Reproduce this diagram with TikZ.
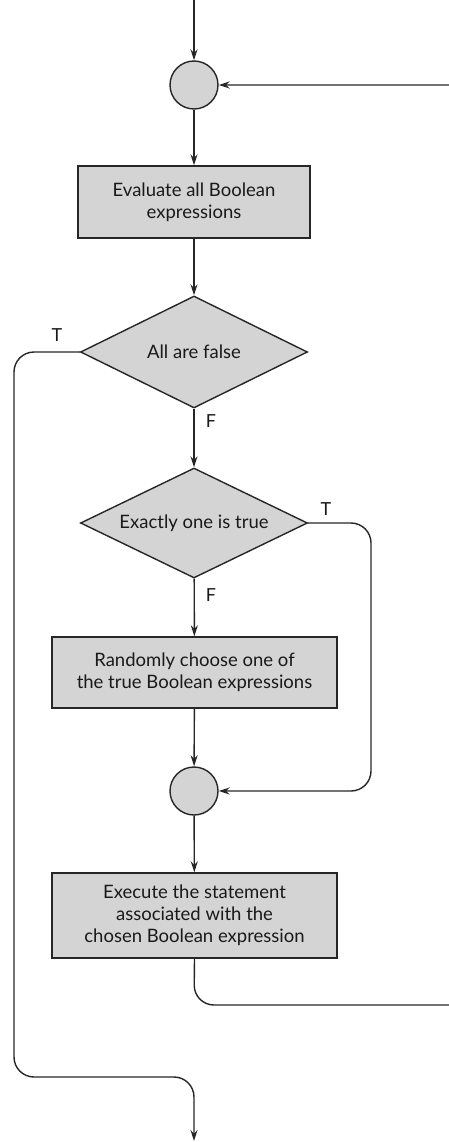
\documentclass[tikz,border=0pt]{standalone}
\usepackage{fontspec}
\setmainfont{Lato}
\usetikzlibrary{shapes.geometric,arrows.meta}
\definecolor{boxgray}{HTML}{D4D4D4}
\begin{document}
\begin{tikzpicture}[x=1pt,y=-1pt,
  line width=1.4pt, draw=black!85,
  every node/.style={font=\fontsize{18.5}{22}\selectfont, text=black!90},
  proc/.style={draw, fill=boxgray, rectangle, align=center, inner sep=0pt},
  junc/.style={draw, fill=boxgray, circle, minimum size=48pt, inner sep=0pt},
  dec/.style={draw, fill=boxgray, diamond, minimum width=227pt, minimum height=112pt, inner sep=0pt, aspect=2},
  arr/.style={-{Stealth[length=11pt,width=7pt]}},
  lbl/.style={font=\fontsize{18}{20}\selectfont}]
\useasboundingbox (0,0) rectangle (449,1142);
\clip (0,0) rectangle (449,1142);
\coordinate (start) at (194,0);
\node[junc] (c1) at (194,85) {};
\node[proc, minimum width=232pt, minimum height=72pt] (b1) at (194,202) {Evaluate all Boolean\\expressions};
\node[dec] (d1) at (194,352) {All are false};
\node[dec, minimum height=110pt] (d2) at (194,523) {Exactly one is true};
\node[proc, minimum width=285pt, minimum height=71pt] (b2) at (194.5,672.5) {Randomly choose one of\\the true Boolean expressions};
\node[junc] (c2) at (194,791) {};
\node[proc, minimum width=285pt, minimum height=85pt] (b3) at (194.5,915.5) {Execute the statement\\associated with the\\chosen Boolean expression};
\coordinate (end) at (194,1141);
\coordinate (lft) at (14,352);
\coordinate (lftb) at (14,1077);
\coordinate (midb) at (194,1077);
\coordinate (rt) at (371,523);
\coordinate (rtb) at (371,791);
\coordinate (lb) at (194,1005);
\coordinate (lbr) at (472,1005);
\coordinate (ltr) at (472,85);

\draw[arr] (start) -- (c1);
\draw[arr] (c1) -- (b1);
\draw[arr] (b1) -- (d1);
\draw[arr] (d1) -- (d2);
\draw[arr] (d2) -- (b2);
\draw[arr] (b2) -- (c2);
\draw[arr] (c2) -- (b3);
\draw[arr, rounded corners=20pt] (d1.west) -- (lft) -- (lftb) -- (midb) -- (end);
\draw[arr, rounded corners=20pt] (d2.east) -- (rt) -- (rtb) -- (c2.east);
\draw[arr, rounded corners=20pt] (b3.south) -- (lb) -- (lbr) -- (ltr) -- (c1.east);

\node[lbl] (t1) at (57,335) {T};
\node[lbl] (f1) at (211,421) {F};
\node[lbl] (t2) at (326,509) {T};
\node[lbl] (f2) at (211,595) {F};
\end{tikzpicture}
\end{document}
